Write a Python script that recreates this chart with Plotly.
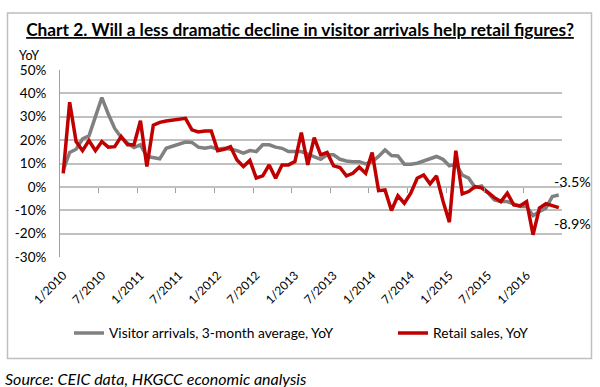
import plotly.graph_objects as go

# ---- data ----
tick_labels = ["1/2010", "7/2010", "1/2011", "7/2011", "1/2012", "7/2012", "1/2013",
               "7/2013", "1/2014", "7/2014", "1/2015", "7/2015", "1/2016"]

visitor_arrivals = [7.0, 14.7, 16.1, 20.5, 21.8, 30.0, 38.2, 31.2, 25.0, 21.2, 18.7, 16.8,
                    18.0, 13.0, 12.5, 12.0, 16.5, 17.5, 18.5, 19.2, 19.0, 17.0, 16.5, 17.0,
                    16.1, 16.5, 16.1, 15.5, 14.4, 15.5, 15.1, 18.0, 18.0, 17.0, 16.5, 15.1,
                    15.1, 15.1, 14.0, 13.0, 11.8, 13.7, 13.7, 11.8, 11.1, 10.8, 10.8, 9.8,
                    10.8, 13.0, 15.8, 13.4, 13.2, 9.7, 9.7, 10.1, 11.1, 11.8, 13.0, 11.8,
                    9.0, 9.8, 5.1, 3.7, -0.3, 0.4, -2.7, -5.6, -6.3, -6.3, -7.3, -8.4,
                    -8.4, -12.3, -10.5, -9.1, -4.1, -3.5]

retail_sales = [5.8, 36.2, 19.4, 15.5, 19.8, 15.5, 19.4, 17.0, 17.2, 21.5, 18.0, 18.0,
                28.3, 8.7, 26.4, 27.6, 28.2, 28.6, 29.0, 29.3, 24.4, 23.5, 23.9, 23.9,
                15.5, 16.1, 17.2, 11.5, 8.7, 11.3, 3.8, 4.7, 9.4, 3.7, 9.4, 9.4,
                10.8, 23.2, 9.4, 21.1, 13.7, 14.7, 9.0, 8.3, 4.7, 5.8, 8.4, 5.8,
                14.7, -1.6, -1.3, -10.1, -3.8, -7.0, -2.7, 3.7, 5.1, 1.3, 4.7, -6.0,
                -15.1, 15.5, -3.0, -2.0, 0.1, -0.4, -2.4, -4.6, -6.3, -2.7, -7.7, -8.1,
                -6.3, -20.5, -9.1, -7.2, -8.0, -8.9]

n = len(retail_sales)
x_idx = list(range(n))
tick_pos = list(range(0, n, 6))[:len(tick_labels)]
boundaries = [p - 0.5 for p in range(6, n, 6)]

FONT = "Lato"
GRAY = "#808080"
RED = "#c00000"
GRID = "#c0c0c0"

# plot-area pixel geometry (for paper conversions)
W, H = 600, 387
L, R, T, B = 60, 562, 70, 257


def px_x(px):
    return (px - L) / (R - L)


def px_y(py):
    return (B - py) / (B - T)


fig = go.Figure()
# helper trace for the tick-mark axis on the zero line
fig.add_trace(go.Scatter(x=x_idx, y=retail_sales, mode="lines", xaxis="x2",
                         line=dict(color="rgba(0,0,0,0)", width=0),
                         showlegend=False, hoverinfo="skip"))
fig.add_trace(go.Scatter(x=x_idx, y=visitor_arrivals, mode="lines",
                         name="Visitor arrivals, 3-month average, YoY",
                         line=dict(color=GRAY, width=3.5), legend="legend"))
fig.add_trace(go.Scatter(x=x_idx, y=retail_sales, mode="lines",
                         name="Retail sales, YoY",
                         line=dict(color=RED, width=3.5), legend="legend2"))

leg_common = dict(orientation="h", yanchor="middle", xanchor="left", y=px_y(333),
                  font=dict(size=13.8, family=FONT), itemwidth=30,
                  bgcolor="rgba(0,0,0,0)")

fig.update_layout(
    width=W, height=H,
    margin=dict(l=L, r=W - R, t=T, b=H - B),
    paper_bgcolor="white", plot_bgcolor="white",
    font=dict(family=FONT, size=13, color="#000000"),
    showlegend=True,
    legend=dict(x=px_x(69), **leg_common),
    legend2=dict(x=px_x(393), **leg_common),
    title=dict(text="<b><u>Chart 2. Will a less dramatic decline in visitor arrivals help retail figures?</u></b>",
               x=0.5, xref="container", y=1 - 30 / H, yref="container",
               xanchor="center", yanchor="middle",
               font=dict(family=FONT, size=17.3, color="#000000")),
    xaxis=dict(range=[-0.5, n - 0.5], tickmode="array", tickvals=tick_pos, ticktext=tick_labels,
               tickangle=-45, showgrid=False, zeroline=False, showline=False, ticks="",
               tickfont=dict(size=12, family=FONT), ticklabelstandoff=8),
    xaxis2=dict(range=[-0.5, n - 0.5], overlaying="x", anchor="free", position=30 / 80,
                tickmode="array", tickvals=boundaries, showticklabels=False,
                ticks="outside", ticklen=5, tickcolor="#a0a0a0", tickwidth=1,
                showgrid=False, zeroline=False, showline=False),
    yaxis=dict(range=[-30, 50], tickmode="array", tickvals=list(range(-30, 51, 10)),
               ticktext=[f"{v}%" for v in range(-30, 51, 10)],
               showgrid=True, gridcolor=GRID, gridwidth=1.5,
               zeroline=True, zerolinecolor=GRID, zerolinewidth=1.5,
               showline=True, linecolor="#a0a0a0", linewidth=1,
               ticks="", tickfont=dict(size=13.5, family=FONT), ticklabelstandoff=10),
)

# outer box
fig.add_shape(type="rect", xref="paper", yref="paper",
              x0=px_x(7.5), x1=px_x(591.5), y0=px_y(358.5), y1=px_y(13),
              line=dict(color="#bfbfbf", width=1.5), layer="below")

# YoY label
fig.add_annotation(text="YoY", xref="paper", yref="paper", x=px_x(17), y=px_y(56),
                   xanchor="left", yanchor="middle", showarrow=False,
                   font=dict(size=12.5, family=FONT))

# end labels
fig.add_annotation(text=f"{visitor_arrivals[-1]}%", x=n - 1, y=visitor_arrivals[-1],
                   xanchor="left", yanchor="middle", xshift=-7, yshift=14, showarrow=False,
                   font=dict(size=14.3, family=FONT))
fig.add_annotation(text=f"{retail_sales[-1]}%", x=n - 1, y=retail_sales[-1],
                   xanchor="left", yanchor="middle", xshift=-7, yshift=-16, showarrow=False,
                   font=dict(size=14.3, family=FONT))

# source
fig.add_annotation(text="<i>Source: CEIC data, HKGCC economic analysis</i>",
                   xref="paper", yref="paper", x=px_x(3), y=px_y(378),
                   xanchor="left", yanchor="middle", showarrow=False,
                   font=dict(size=16, family=FONT))

fig.write_html("out.html", post_script="document.body.style.margin='0';",
               config={"displayModeBar": False})
